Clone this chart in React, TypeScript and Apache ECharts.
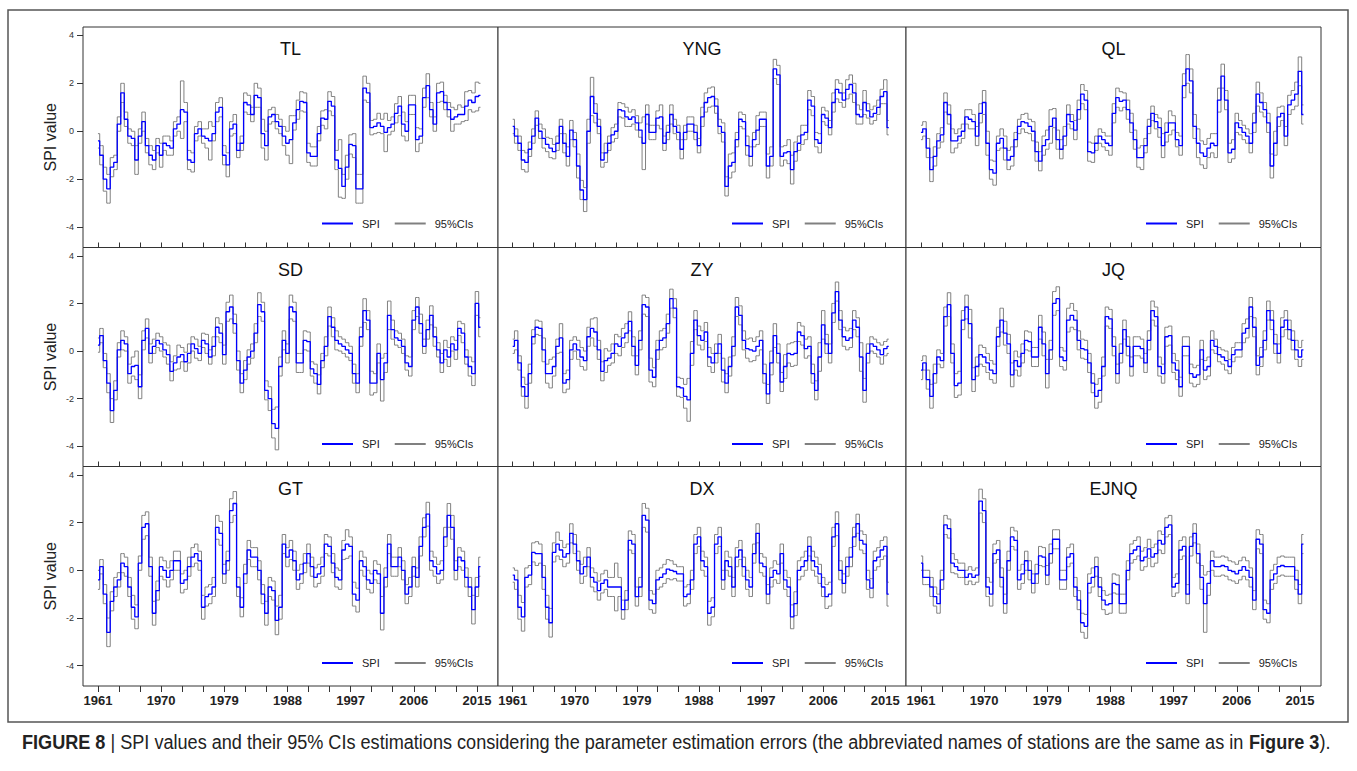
import React, { useEffect, useRef } from 'react';
import * as echarts from 'echarts';

// ---------------- data (half-year samples starting 1961.0) ----------------
const startYear = 1961;
const sampleStep = 0.5;

const stationNames = ['TL', 'YNG', 'QL', 'SD', 'ZY', 'JQ', 'GT', 'DX', 'EJNQ'];

const spiTL = [
  -0.4, -1.0, -2.0, -2.4, -1.5, -1.3, 0.3, 1.6, 0.5, -0.2,
  -0.3, -1.2, -0.2, 0.4, -0.6, -1.0, -1.2, -0.6, -1.0, -0.5,
  -0.6, -0.7, 0.1, 0.3, 0.9, 0.8, -1.2, -1.3, -0.1, 0.1,
  -0.2, -0.3, -0.4, -0.1, 0.8, 1.0, -1.0, -1.4, 0.1, 0.3,
  -0.8, -0.5, 1.2, 1.1, 0.7, 1.5, 1.4, -0.1, -0.6, 0.6,
  0.7, 0.4, 0.2, -0.2, -0.5, -0.35, 0.35, 0.9, 1.25, 1.2,
  -0.9, -1.05, -1.05, -0.1, 0.55, 0.5, 1.25, 1.05, -1.2, -1.55,
  -2.3, -1.5, -0.55, -0.6, -2.4, -2.4, 1.8, 1.6, 0.15, 0.2,
  0.35, 0.2, -0.05, 0.15, 0.3, 0.75, 1.05, 0.3, 0, 1.1,
  1.1, -0.35, -0.2, 1.4, 1.9, 0.9, 0.3, 1.6, 1.65, 1.2,
  0.9, 0.5, 0.6, 0.7, 0.7, 1.05, 1.3, 1.2, 1.45, 1.5,
];
const ciTL = [
  0.3, 0.4, 0.5, 0.6, 0.4, 0.3, 0.3, 0.4, 0.3, 0.3,
  0.3, 0.6, 0.3, 0.4, 0.3, 0.4, 0.4, 0.3, 0.5, 0.3,
  0.4, 0.3, 0.3, 0.3, 1.2, 0.4, 0.4, 0.4, 0.3, 0.3,
  0.3, 0.4, 0.8, 0.3, 0.4, 0.4, 0.4, 0.5, 0.3, 0.4,
  0.3, 0.3, 0.4, 0.4, 0.3, 0.5, 0.4, 0.6, 0.6, 0.3,
  0.3, 0.3, 0.3, 0.4, 0.5, 1.0, 0.3, 0.4, 0.4, 0.4,
  0.4, 0.4, 0.4, 0.3, 0.3, 0.4, 0.4, 0.4, 0.4, 1.2,
  0.5, 0.5, 0.4, 0.5, 0.6, 0.6, 0.5, 0.4, 0.3, 0.3,
  0.4, 0.3, 0.8, 0.3, 0.3, 0.4, 0.4, 0.5, 0.4, 0.4,
  0.4, 0.5, 0.3, 0.4, 0.5, 0.3, 0.3, 0.4, 0.4, 0.3,
  0.3, 0.5, 0.3, 0.4, 0.3, 0.6, 0.4, 0.4, 0.6, 0.5,
];

const spiYNG = [
  0.2, -0.2, -0.5, -1.2, -1.3, -0.75, -0.2, 0.55, 0, -0.3,
  -0.55, -0.7, -0.85, -0.5, 0.2, -0.5, -1.05, 0.05, -0.35, -1.45,
  -2.45, -2.85, 0, 1.45, 0.75, 0.2, -1.2, -0.9, -0.5, -0.15,
  0, 0.9, 0.85, 0.6, 0.5, 0.6, 0.35, 0.05, -0.5, 0.7,
  -0.05, -0.05, 0.55, 0.6, -0.5, -0.05, 0.7, 0.2, -0.05, -0.75,
  -0.05, 0.3, 0.3, -0.05, -0.6, 0.6, 1.2, 1.4, 1.45, 1.05,
  0.2, -0.05, -2.3, -1.45, -1.3, -0.35, 0.5, 0.4, -0.6, -1.05,
  -0.35, 0.05, 0.5, 0.5, -1.45, -1.05, 2.6, 2.35, -1.05, -0.9,
  -0.85, -1.6, -0.85, -0.5, -0.15, -0.05, 1.3, 1.05, -0.35, -0.5,
  0.7, 0.55, 0.15, 1.2, 1.75, 1.6, 1.3, 1.75, 1.95, 1.6,
  0.7, 0.6, 1.2, 0.85, 0.6, 0.75, 1.0, 1.45, 1.65, 0.15,
];
const ciYNG = [
  0.3, 0.3, 0.3, 0.4, 0.4, 0.3, 0.3, 0.3, 0.3, 0.4,
  0.3, 0.4, 0.3, 0.3, 0.3, 0.4, 0.4, 0.4, 0.3, 0.5,
  0.4, 0.5, 0.5, 0.8, 0.4, 0.3, 0.3, 0.4, 0.3, 0.3,
  0.3, 0.3, 0.3, 0.4, 0.3, 0.3, 0.3, 0.3, 1.1, 0.4,
  0.3, 0.3, 0.3, 0.5, 0.3, 0.3, 0.4, 0.3, 0.3, 0.4,
  0.3, 0.3, 0.3, 0.3, 0.3, 0.4, 0.4, 0.4, 0.4, 0.3,
  0.3, 0.4, 0.4, 0.5, 0.4, 0.3, 0.3, 0.3, 0.4, 0.4,
  0.3, 0.6, 0.3, 0.3, 0.5, 0.4, 0.4, 0.4, 0.4, 0.3,
  0.5, 0.6, 0.4, 0.3, 0.4, 0.3, 0.4, 0.4, 0.3, 0.4,
  0.3, 0.3, 0.3, 0.4, 0.4, 0.4, 0.3, 0.4, 0.4, 0.4,
  0.4, 0.3, 0.5, 0.3, 0.3, 0.3, 0.3, 0.3, 0.5, 0.3,
];

const spiQL = [
  -0.05, 0.1, -0.7, -1.6, -1.05, -0.4, -0.15, 1.2, 0.7, -0.4,
  -0.4, -0.2, 0, 0.6, 0.5, 0.4, -0.2, 0.75, 1.2, -0.5,
  -1.6, -1.75, -0.5, -0.3, -0.7, -1.2, -1.05, -0.35, 0.2, 0.4,
  0.35, 0.2, 0, -0.85, -1.25, -0.6, -0.35, 0.2, 0.55, -0.35,
  -0.75, -0.2, 0.7, 0.4, 0.05, 0.9, 1.55, 1.3, -0.85, -0.9,
  -0.5, -0.2, -0.35, -0.5, -0.6, 0.75, 1.4, 1.25, 1.3, 0.9,
  0.35, -0.35, -1.1, -1.1, -0.6, 0.2, 0.75, 0.4, 0.15, -0.6,
  -0.05, 0.35, 0.35, -0.35, -0.6, 1.9, 2.6, 2.1, 0.2, -0.5,
  -0.9, -1.05, -0.7, -0.5, -0.6, 1.3, 2.3, 1.3, -0.9, -0.75,
  0.35, 0.15, -0.05, -0.2, -0.5, 0.35, 1.55, 1.2, 0.9, 0.35,
  -1.45, -0.5, 0.6, 0.75, -0.2, 1.1, 1.3, 1.55, 2.5, 0.7,
];
const ciQL = [
  0.3, 0.3, 0.4, 0.5, 0.4, 0.3, 0.3, 0.4, 0.4, 0.5,
  0.3, 0.3, 0.3, 0.3, 0.4, 0.3, 0.4, 0.4, 0.5, 0.5,
  0.4, 0.5, 0.3, 0.4, 0.5, 0.4, 0.4, 0.3, 0.3, 0.3,
  0.4, 0.3, 0.4, 0.4, 0.4, 0.4, 0.4, 0.7, 0.4, 0.4,
  0.4, 0.4, 0.4, 0.3, 0.4, 0.4, 0.4, 0.4, 0.4, 0.4,
  0.3, 0.3, 0.3, 0.3, 0.4, 0.4, 0.4, 0.4, 0.3, 0.4,
  0.4, 0.4, 0.4, 0.5, 0.3, 0.3, 0.3, 0.3, 0.4, 0.5,
  0.4, 0.5, 0.3, 0.3, 0.4, 0.5, 0.6, 0.5, 0.5, 0.6,
  0.5, 0.5, 0.4, 0.4, 0.5, 0.5, 0.5, 0.4, 0.4, 0.4,
  0.4, 0.3, 0.3, 0.3, 0.4, 0.4, 0.5, 0.4, 0.3, 0.4,
  0.5, 0.5, 0.4, 0.3, 0.4, 0.4, 0.4, 0.5, 0.6, 0.4,
];

const spiSD = [
  0.25, 0.65, -0.4, -1.35, -2.5, -1.65, 0.05, 0.45, 0.3, -0.95,
  -0.65, -0.6, -1.5, 0.45, 0.95, -0.1, 0.2, 0.45, 0.3, 0.05,
  -0.15, -0.85, -0.5, -0.25, -0.15, -0.45, -0.1, 0.3, 0.1, -0.1,
  0.45, 0.3, -0.25, 0.2, 1.0, 0.75, -0.15, 1.65, 1.85, 1.15,
  -0.4, -1.35, -0.8, -0.25, 0, 0.75, 1.95, 1.65, -1.65, -2.0,
  -3.05, -3.25, -0.65, 0.45, -0.1, 1.85, 1.65, -0.5, -0.5, 0.45,
  0.4, -0.75, -0.95, -1.4, -0.4, 0.2, 1.45, 1.0, 0.45, 0.3,
  0.2, 0.05, -0.1, -0.95, -1.35, 0.6, 1.7, 1.3, -1.35, -1.35,
  -0.1, -1.2, -0.5, 1.5, 0.9, 0.55, 0.45, 0.2, -0.5, -0.65,
  1.3, 1.85, 1.15, 0.2, 0.9, 1.5, 0.6, 0.05, -0.5, 0.05,
  -0.25, 0.3, 0.05, 0.95, 0.75, -0.25, -0.65, -0.95, 2.0, 1.0,
];
const ciSD = [
  0.3, 0.3, 0.3, 0.4, 0.5, 0.4, 0.3, 0.4, 0.3, 0.4,
  0.4, 0.6, 0.5, 0.4, 0.4, 0.4, 0.3, 0.3, 0.3, 0.3,
  0.4, 0.4, 0.3, 0.5, 0.3, 0.4, 0.4, 0.3, 0.4, 0.3,
  0.3, 0.4, 0.3, 0.4, 0.4, 0.4, 0.4, 0.4, 0.5, 0.4,
  0.4, 0.4, 0.4, 0.3, 0.3, 0.4, 0.5, 0.4, 0.4, 0.5,
  0.6, 0.9, 0.4, 0.4, 0.4, 0.5, 0.4, 0.4, 0.4, 0.4,
  0.4, 0.3, 0.4, 0.4, 0.3, 0.4, 0.4, 0.4, 0.4, 0.3,
  0.3, 0.3, 0.3, 0.4, 0.4, 0.4, 0.5, 0.4, 0.5, 0.4,
  0.4, 0.9, 0.4, 0.6, 0.4, 0.3, 0.3, 0.3, 0.3, 0.4,
  0.4, 0.4, 0.4, 0.3, 0.4, 0.4, 0.4, 0.3, 0.4, 0.4,
  0.4, 0.3, 0.4, 0.3, 0.4, 0.3, 0.4, 0.5, 0.5, 0.4,
];

const spiZY = [
  0.2, 0.45, -0.5, -1.5, -1.9, -0.95, 0.6, 1.0, 0.95, 0.05,
  -0.95, -0.95, -0.65, 0.2, 0.55, -1.35, -1.2, 0.05, 0.3, 0.05,
  -0.25, -0.4, 0.6, 0.95, 0.8, 0.05, -0.85, -0.4, -0.3, -0.1,
  0.3, 0.2, 0.55, 0.75, 1.25, 0.2, -0.6, 0.45, 1.95, 1.85,
  -0.8, -1.1, 0.05, 0.45, 0.55, 1.15, 2.2, 1.8, -1.5, -1.55,
  -1.9, -2.05, -0.1, 1.3, 0.65, 0.45, 0.8, -0.25, -0.5, -0.1,
  0.3, -0.8, -1.35, -0.65, 0.2, 1.85, 1.5, 0.45, 0.1, 0.05,
  0, 0.2, 0.45, -0.95, -1.8, -0.5, 0.65, -0.1, -1.3, -0.65,
  -0.1, -0.15, -0.1, 0.8, 0.65, 0.1, 0.2, -0.95, -1.65, -0.25,
  1.1, 0.3, -0.1, 1.6, 2.5, 1.3, 0.6, 0.45, 0.55, 1.3,
  1.0, -0.25, -1.65, -0.1, 0.3, 0.2, 0.05, -0.15, 0.1, 0.2,
];
const ciZY = [
  0.3, 0.4, 0.3, 0.4, 0.5, 0.4, 0.3, 0.3, 0.3, 0.5,
  0.4, 0.6, 0.4, 0.3, 0.6, 0.4, 0.4, 0.4, 0.3, 0.4,
  0.4, 0.4, 0.4, 0.4, 0.6, 0.4, 0.4, 0.5, 0.3, 0.4,
  0.4, 0.4, 0.4, 0.4, 0.4, 0.4, 0.4, 0.4, 0.4, 0.4,
  0.5, 0.4, 0.4, 0.4, 0.4, 0.4, 0.4, 0.4, 0.4, 0.4,
  0.5, 0.9, 0.5, 0.4, 0.4, 0.4, 0.4, 0.4, 0.4, 0.4,
  0.4, 0.5, 0.4, 0.4, 0.4, 0.4, 0.4, 0.4, 0.4, 0.5,
  0.4, 0.4, 0.4, 0.4, 0.4, 0.5, 0.5, 0.4, 0.4, 0.5,
  0.4, 0.5, 0.5, 0.4, 0.4, 0.4, 0.4, 0.4, 0.4, 0.6,
  0.6, 0.4, 0.4, 0.4, 0.4, 0.4, 0.4, 0.4, 0.4, 0.4,
  0.4, 0.6, 0.5, 0.4, 0.3, 0.3, 0.3, 0.4, 0.3, 0.3,
];

const spiJQ = [
  -0.8, -0.5, -1.2, -1.9, -0.95, -0.25, -0.4, 1.45, 1.95, -0.1,
  -1.45, -1.35, 1.3, 1.85, 1.15, -1.2, -0.65, -0.15, -0.25, -0.5,
  -0.8, -0.95, 0.6, 1.3, 0.75, 0.3, -1.0, -0.4, -0.65, -0.1,
  0.45, 0.4, -0.25, -0.25, 1.0, 0.3, -0.95, 0.05, 2.0, 2.2,
  -0.25, -0.4, 1.3, 1.5, 1.3, 0.45, 0.1, 0.05, -0.5, -1.35,
  -1.9, -1.65, -0.65, 1.45, 1.35, 0.2, -0.95, -0.1, 0.9, 0.2,
  -0.65, 0.2, 0.2, 0.1, -0.5, 0.45, 1.7, 1.45, -0.65, -0.95,
  0.6, 0.65, -0.5, -0.8, -1.5, 0.2, 0.2, -0.95, -1.1, -1.0,
  0.05, -0.8, -0.65, 0.45, 0.2, -0.15, -0.25, -0.4, -0.65, -0.15,
  0.05, 0.05, 0.75, 0.95, 1.85, 1.0, -0.6, -0.25, 0.45, 1.7,
  1.3, 0.3, -0.1, 1.0, 1.3, 0.9, 0.45, 0.05, -0.25, 0.05,
];
const ciJQ = [
  0.4, 0.3, 0.4, 0.5, 0.4, 0.3, 0.3, 0.4, 0.5, 0.4,
  0.5, 0.5, 0.4, 0.5, 0.6, 0.5, 0.4, 0.4, 0.4, 0.4,
  0.4, 0.4, 0.4, 0.5, 0.5, 0.4, 0.5, 0.4, 0.4, 0.4,
  0.4, 0.4, 0.4, 0.4, 0.5, 0.5, 0.6, 0.4, 0.5, 0.5,
  0.4, 0.4, 0.5, 0.5, 0.4, 0.4, 0.4, 0.4, 0.4, 0.4,
  0.5, 0.5, 0.4, 0.4, 0.4, 0.4, 0.4, 0.4, 0.4, 0.4,
  0.4, 0.4, 0.4, 0.4, 0.4, 0.4, 0.4, 0.4, 0.4, 0.4,
  0.4, 0.4, 0.4, 0.4, 0.4, 0.4, 0.4, 0.4, 0.4, 0.4,
  0.4, 0.4, 0.4, 0.4, 0.3, 0.3, 0.3, 0.4, 0.3, 0.3,
  0.3, 0.3, 0.4, 0.4, 0.4, 0.4, 0.4, 0.4, 0.4, 0.4,
  0.4, 0.4, 0.4, 0.4, 0.4, 0.4, 0.4, 0.4, 0.4, 0.4,
];

const spiGT = [
  -0.4, 0.15, -1.0, -2.6, -1.3, -0.7, -0.4, 0.3, 0.15, -0.7,
  -1.55, -1.95, 0.3, 1.8, 1.95, 0.15, -1.8, -0.85, 0.15, 0,
  -0.3, 0, 0.4, 0.4, -0.55, -0.4, 0.15, 0.55, 0.7, 0.4,
  -1.55, -1.1, -1.0, -0.7, 1.8, 1.55, -0.15, 0.4, 2.5, 2.8,
  -0.7, -1.55, -0.15, 0.85, 0.55, 0.55, 0, -1.0, -1.8, -0.7,
  -0.85, -2.1, -1.55, 1.1, 0.55, 0.85, 0.4, -0.4, -0.15, 0.3,
  0.7, 0.15, -0.3, -0.15, 0.15, 1.1, 1.0, 0.3, -0.3, -0.4,
  0.85, 1.1, 1.0, -1.0, -1.25, 0.4, 0.15, -0.4, -0.55, 0,
  -0.15, -1.8, -0.3, 1.1, 0.15, 0.15, 0.55, 0, -1.0, -0.7,
  0.15, -0.3, 1.0, 1.8, 2.35, 0.4, 0.15, -0.15, 0, 1.4,
  2.3, 1.8, 0, 0.55, 0.4, -0.3, -0.7, -1.65, -0.7, 0.15,
];
const ciGT = [
  0.4, 0.3, 0.4, 0.6, 0.4, 0.4, 0.3, 0.4, 0.4, 0.4,
  0.5, 0.5, 0.3, 0.5, 0.5, 0.4, 0.5, 0.4, 0.4, 0.4,
  0.4, 0.4, 0.4, 0.4, 0.4, 0.4, 0.4, 0.4, 0.4, 0.4,
  0.5, 0.4, 0.4, 0.4, 0.5, 0.5, 0.4, 0.4, 0.5, 0.5,
  0.4, 0.4, 0.4, 0.4, 0.4, 0.4, 0.4, 0.4, 0.5, 0.4,
  0.4, 0.6, 0.5, 0.4, 0.4, 0.4, 0.4, 0.4, 0.4, 0.4,
  0.4, 0.4, 0.4, 0.4, 0.4, 0.4, 0.4, 0.4, 0.4, 0.4,
  0.4, 0.6, 0.4, 0.5, 0.5, 0.4, 0.4, 0.4, 0.4, 0.4,
  0.4, 0.7, 0.4, 0.4, 0.4, 0.4, 0.4, 0.4, 0.4, 0.4,
  0.4, 0.4, 0.4, 0.4, 0.5, 0.4, 0.4, 0.4, 0.4, 0.4,
  0.5, 0.5, 0.4, 0.4, 0.4, 0.4, 0.4, 0.6, 0.4, 0.4,
];

const spiDX = [
  -0.2, -0.4, -1.55, -1.95, -0.3, -0.2, 0.75, 0.7, 0.7, -0.3,
  -1.55, -2.2, 0.75, 1.1, 0.85, 0.55, 0.7, 1.55, 1.1, 0.4,
  -0.15, 0.15, 0.55, -0.3, -0.5, -0.85, -0.55, -0.4, -0.7, -0.7,
  -0.7, -0.7, -1.65, -1.25, 1.25, 1.1, -1.1, -0.7, 2.3, 2.1,
  -1.25, -1.4, -0.4, -0.3, -0.15, 0.05, 0, -0.05, -0.15, -0.15,
  -1.1, -1.0, -0.4, 1.1, 1.4, 0.4, 0.15, -1.8, -1.55, 1.1,
  1.4, -0.4, 0.4, 0.15, -0.7, 0.55, 0.85, 0.15, -0.4, -0.7,
  0.7, 1.55, 0.3, 0.15, -1.0, -0.3, 0, -0.15, 0.7, -0.4,
  -0.7, -1.95, -1.4, 0, 0.15, 0.4, 1.0, 0.4, 0.15, -0.15,
  -0.7, -1.1, -1.0, 1.4, 1.95, 0, -0.55, 0.15, 0.55, 1.4,
  1.95, 1.25, 1.1, -0.4, -0.75, 0.4, 0.55, 0.85, 1.0, -1.0,
];
const ciDX = [
  0.3, 0.4, 0.5, 0.6, 0.4, 0.4, 0.4, 0.5, 0.4, 0.5,
  0.5, 0.6, 0.4, 0.5, 0.4, 0.4, 0.4, 0.4, 0.4, 0.4,
  0.4, 0.4, 0.4, 0.4, 0.4, 0.4, 0.4, 0.4, 0.4, 0.4,
  1.0, 0.4, 0.4, 0.4, 0.4, 0.4, 0.4, 0.4, 0.5, 0.5,
  0.4, 0.4, 0.4, 0.4, 0.4, 0.4, 0.4, 0.3, 0.3, 0.3,
  0.4, 0.4, 0.4, 0.4, 0.4, 0.4, 0.4, 0.5, 0.4, 0.4,
  0.4, 0.4, 0.4, 0.4, 0.4, 0.4, 0.4, 0.4, 0.4, 0.4,
  0.4, 0.4, 0.4, 0.4, 0.4, 0.4, 0.4, 0.4, 0.4, 0.4,
  0.4, 0.5, 0.5, 0.4, 0.4, 0.4, 0.4, 0.4, 0.4, 0.4,
  0.4, 0.5, 0.5, 0.4, 0.5, 0.4, 0.4, 0.4, 0.4, 0.4,
  0.4, 0.4, 0.4, 0.4, 0.4, 0.4, 0.4, 0.4, 0.4, 0.5,
];

const spiEJNQ = [
  0.3, -0.3, -0.3, -0.7, -1.1, -1.4, -0.4, 1.9, 1.75, 0.3,
  0.15, 0, 0, -0.3, -0.15, -0.3, -0.2, 2.9, 2.5, -0.7,
  -1.0, 0.7, 0.85, -0.3, -1.4, 0.4, 1.4, 1.25, -0.4, -0.15,
  0.4, 0, -0.55, -0.15, 0.6, 0.55, -0.2, 0.7, 1.3, 1.3,
  -0.4, -0.4, 0.55, 0.7, -0.7, -1.25, -2.2, -2.35, -0.55, -0.3,
  0.15, -0.7, -1.25, -1.45, -1.4, -0.55, -0.6, -1.4, -1.4, 0,
  0.7, 0.85, 1.0, 0.4, 0.55, 0.9, 0.55, 0.7, 1.25, 1.1,
  1.8, 1.9, -0.7, -0.55, 0.85, 1.0, -1.0, 1.0, 1.55, 0.7,
  -0.3, -1.4, -0.55, 0.4, 0.15, 0.15, 0.2, 0.15, 0, -0.05,
  -0.15, 0, 0.15, 0, -0.3, -1.25, 1.3, 1.1, -1.65, -1.8,
  -0.4, -0.15, 0.15, 0.2, 0.15, 0.15, 0.15, -0.4, -1.0, 1.1,
];
const ciEJNQ = [
  0.3, 0.3, 0.3, 0.4, 0.4, 0.4, 0.4, 0.4, 0.4, 0.4,
  0.3, 0.3, 0.3, 0.3, 0.3, 0.3, 0.3, 0.5, 0.5, 0.4,
  0.5, 0.4, 0.4, 0.4, 0.4, 0.4, 0.4, 0.4, 0.4, 0.4,
  0.4, 0.4, 0.4, 0.4, 0.4, 0.4, 0.4, 0.4, 0.4, 0.4,
  0.4, 0.4, 0.4, 0.4, 0.4, 0.4, 0.4, 0.5, 0.4, 0.4,
  0.4, 0.4, 0.4, 0.4, 0.4, 0.4, 0.4, 0.4, 0.4, 0.4,
  0.4, 0.4, 0.4, 0.4, 0.4, 0.4, 0.4, 0.4, 0.4, 0.4,
  0.4, 0.4, 0.4, 0.4, 0.4, 0.4, 0.4, 0.4, 0.4, 0.4,
  0.5, 1.2, 0.5, 0.4, 0.4, 0.4, 0.4, 0.4, 0.4, 0.4,
  0.4, 0.4, 0.4, 0.4, 0.4, 0.4, 0.4, 0.4, 0.4, 0.4,
  0.4, 0.4, 0.4, 0.4, 0.4, 0.4, 0.4, 0.4, 0.4, 0.4,
];

const spiSeries = [spiTL, spiYNG, spiQL, spiSD, spiZY, spiJQ, spiGT, spiDX, spiEJNQ];
const ciHalfWidths = [ciTL, ciYNG, ciQL, ciSD, ciZY, ciJQ, ciGT, ciDX, ciEJNQ];

const xTickYears = [1961, 1964, 1967, 1970, 1973, 1976, 1979, 1982, 1985, 1988, 1991, 1994, 1997, 2000, 2003, 2006, 2009, 2012, 2015];
const xLabelYears = [1961, 1970, 1979, 1988, 1997, 2006, 2015];
const yTickValues = [-4, -2, 0, 2, 4];

const captionText =
  '{b|FIGURE 8} | SPI values and their 95% CIs estimations considering the parameter estimation errors (the abbreviated names of stations are the same as in {b|Figure 3}).';

// ---------------- layout ----------------
const rowTops = [27, 247.5, 466.5];
const rowHeights = [220.5, 219, 219.5];
const colLefts = [83, 498, 906];
const colWidths = [415, 408, 415];
const legendLefts = [322, 732, 1146];
const X_MIN = 1958.87;
const X_MAX = 2018.0;
const Y_MIN = -4.85;
const Y_MAX = 4.35;

const SANS = '"Liberation Sans", Arial, Helvetica, sans-serif';
const BLUE = '#0000ff';
const GREY = '#808080';

function buildOption() {
  const grid: any[] = [];
  const xAxis: any[] = [];
  const yAxis: any[] = [];
  const series: any[] = [];
  const title: any[] = [];
  const legend: any[] = [];

  stationNames.forEach((name, k) => {
    const row = Math.floor(k / 3);
    const col = k % 3;
    const bottomRow = row === 2;
    const firstCol = col === 0;

    grid.push({
      left: colLefts[col],
      top: rowTops[row],
      width: colWidths[col],
      height: rowHeights[row],
      show: true,
      borderColor: '#333',
      borderWidth: 1,
      backgroundColor: '#fff',
      containLabel: false,
    });

    xAxis.push({
      type: 'value',
      gridIndex: k,
      min: X_MIN,
      max: X_MAX,
      axisLine: { show: false, onZero: false },
      splitLine: { show: false },
      axisTick: {
        show: true,
        inside: !bottomRow,
        length: bottomRow ? 6 : 5,
        customValues: xTickYears,
        lineStyle: { color: '#333', width: 1 },
      },
      axisLabel: {
        show: bottomRow,
        customValues: xLabelYears,
        margin: 8,
        fontSize: 13,
        fontWeight: 'bold',
        fontFamily: SANS,
        color: '#222',
        formatter: (v: number) => String(Math.round(v)),
      },
    });

    yAxis.push({
      type: 'value',
      gridIndex: k,
      min: Y_MIN,
      max: Y_MAX,
      axisLine: { show: false, onZero: false },
      splitLine: { show: false },
      axisTick: {
        show: firstCol,
        inside: false,
        length: 6,
        customValues: yTickValues,
        lineStyle: { color: '#333', width: 1 },
      },
      axisLabel: {
        show: firstCol,
        customValues: yTickValues,
        margin: 9,
        fontSize: 9,
        fontFamily: SANS,
        color: '#333',
      },
      name: firstCol ? 'SPI value' : '',
      nameLocation: 'middle',
      nameGap: 25,
      nameTextStyle: { fontSize: 16, fontFamily: SANS, color: '#222' },
    });

    const spi = spiSeries[k];
    const hw = ciHalfWidths[k];
    const t = (i: number) => startYear + i * sampleStep;

    series.push({
      type: 'line',
      name: '95%CIs',
      xAxisIndex: k,
      yAxisIndex: k,
      data: spi.map((v, i) => [t(i), +(v - hw[i]).toFixed(2)]),
      showSymbol: false,
      symbol: 'none',
      step: 'middle',
      silent: true,
      itemStyle: { color: GREY },
      lineStyle: { color: GREY, width: 1 },
      z: 2,
    });
    series.push({
      type: 'line',
      name: '95%CIs',
      xAxisIndex: k,
      yAxisIndex: k,
      data: spi.map((v, i) => [t(i), +(v + hw[i]).toFixed(2)]),
      showSymbol: false,
      symbol: 'none',
      step: 'middle',
      silent: true,
      itemStyle: { color: GREY },
      lineStyle: { color: GREY, width: 1 },
      z: 2,
    });
    series.push({
      type: 'line',
      name: 'SPI',
      xAxisIndex: k,
      yAxisIndex: k,
      data: spi.map((v, i) => [t(i), v]),
      showSymbol: false,
      symbol: 'none',
      step: 'middle',
      silent: true,
      itemStyle: { color: BLUE },
      lineStyle: { color: BLUE, width: 1.3 },
      z: 3,
    });

    title.push({
      text: name,
      left: colLefts[col] + colWidths[col] / 2,
      top: rowTops[row] + 13,
      textAlign: 'center',
      padding: 0,
      textStyle: { fontSize: 18, fontWeight: 'normal', color: '#111', fontFamily: SANS },
    });

    legend.push({
      left: legendLefts[col],
      top: rowTops[row] + 191,
      orient: 'horizontal',
      padding: 0,
      itemWidth: 31,
      itemHeight: 2,
      itemGap: 15,
      selectedMode: false,
      data: [
        { name: 'SPI', icon: 'rect', itemStyle: { color: BLUE } },
        { name: '95%CIs', icon: 'rect', itemStyle: { color: GREY } },
      ],
      textStyle: { fontSize: 11, color: '#222', fontFamily: SANS, padding: [0, 0, 0, 4] },
    });
  });

  return {
    animation: false,
    backgroundColor: '#fff',
    grid,
    xAxis,
    yAxis,
    series,
    title,
    legend,
    graphic: [
      {
        type: 'rect',
        silent: true,
        shape: { x: 8, y: 10, width: 1340, height: 712 },
        style: { fill: 'none', stroke: '#555', lineWidth: 1.5 },
        z: -1,
      },
      {
        type: 'text',
        silent: true,
        x: 22,
        y: 742,
        scaleX: 0.905,
        scaleY: 1,
        style: {
          text: captionText,
          fontSize: 20,
          fontFamily: SANS,
          fill: '#222',
          verticalAlign: 'middle',
          rich: {
            b: { fontSize: 20, fontFamily: SANS, fontWeight: 'bold', fill: '#222' },
          },
        },
      },
    ],
  };
}

export default function App() {
  const ref = useRef<HTMLDivElement>(null);
  useEffect(() => {
    document.body.style.margin = '0';
    document.body.style.overflow = 'hidden';
    const chart = echarts.init(ref.current!, null, { renderer: 'svg' });
    chart.setOption(buildOption() as any);
    return () => chart.dispose();
  }, []);
  return (
    <div
      ref={ref}
      style={{ position: 'absolute', left: 0, top: 0, width: 1357, height: 771, background: '#fff' }}
    />
  );
}
